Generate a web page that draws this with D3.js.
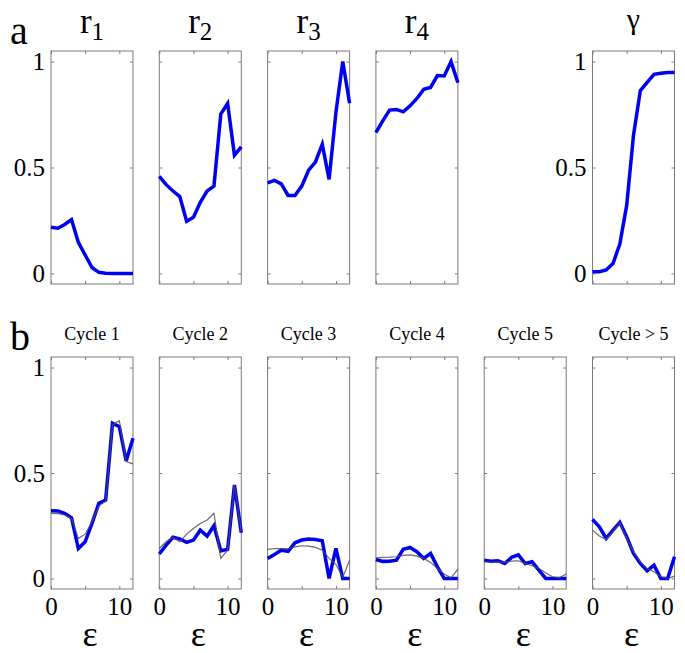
<!DOCTYPE html>
<html>
<head>
<meta charset="utf-8">
<script src="https://cdn.jsdelivr.net/npm/d3@7"></script>
<style>
body { margin: 0; background: #fff; }
svg { font-family: "Liberation Serif", "Times New Roman", serif; }
</style>
</head>
<body>
<div id="chart"></div>
<script>
// x values (epsilon)
var eps = [0, 1, 2, 3, 4, 5, 6, 7, 8, 9, 10, 11, 12];

// row a: model parameters
var r1 = [0.218, 0.213, 0.231, 0.254, 0.147, 0.087, 0.028, 0.005, 0.001, 0.0, 0.0, 0.0, 0.0];
var r2 = [0.458, 0.419, 0.389, 0.363, 0.246, 0.265, 0.336, 0.389, 0.412, 0.752, 0.802, 0.558, 0.597];
var r3 = [0.427, 0.439, 0.423, 0.368, 0.368, 0.412, 0.487, 0.526, 0.610, 0.444, 0.76, 1.0, 0.803];
var r4 = [0.665, 0.720, 0.771, 0.774, 0.763, 0.791, 0.826, 0.869, 0.878, 0.934, 0.932, 1.0, 0.900];
var gamma = [0.008, 0.008, 0.016, 0.047, 0.139, 0.321, 0.652, 0.863, 0.902, 0.940, 0.945, 0.948, 0.949];

// row b: per-cycle data (blue) and model fit (gray)
var cycle1 = [0.321, 0.320, 0.309, 0.288, 0.142, 0.174, 0.261, 0.356, 0.372, 0.736, 0.720, 0.557, 0.665];
var cycle1Fit = [0.309, 0.307, 0.301, 0.285, 0.190, 0.210, 0.269, 0.343, 0.369, 0.728, 0.748, 0.554, 0.543];
var cycle2 = [0.116, 0.158, 0.195, 0.187, 0.171, 0.182, 0.229, 0.201, 0.250, 0.131, 0.138, 0.443, 0.217];
var cycle2Fit = [0.142, 0.174, 0.195, 0.174, 0.210, 0.237, 0.261, 0.277, 0.309, 0.095, 0.134, 0.443, 0.222];
var cycle3 = [0.095, 0.114, 0.134, 0.128, 0.169, 0.182, 0.187, 0.185, 0.179, 0.0, 0.142, 0.0, 0.0];
var cycle3Fit = [0.138, 0.142, 0.141, 0.141, 0.150, 0.155, 0.153, 0.147, 0.134, 0.095, 0.066, 0.005, 0.087];
var cycle4 = [0.090, 0.081, 0.082, 0.087, 0.138, 0.147, 0.127, 0.095, 0.119, 0.055, 0.0, 0.0, 0.0];
var cycle4Fit = [0.098, 0.100, 0.101, 0.103, 0.109, 0.112, 0.106, 0.095, 0.076, 0.047, 0.021, 0.003, 0.044];
var cycle5 = [0.087, 0.082, 0.084, 0.071, 0.100, 0.112, 0.071, 0.079, 0.040, 0.0, 0.0, 0.0, 0.0];
var cycle5Fit = [0.078, 0.078, 0.078, 0.076, 0.082, 0.084, 0.071, 0.060, 0.047, 0.027, 0.008, 0.003, 0.021];
var cycle6 = [0.280, 0.245, 0.190, 0.229, 0.266, 0.198, 0.119, 0.071, 0.036, 0.063, 0.0, 0.0, 0.103];
var cycle6Fit = [0.229, 0.201, 0.185, 0.222, 0.264, 0.190, 0.127, 0.079, 0.047, 0.032, 0.008, 0.0, 0.011];

var topNames = ["r", "r", "r", "r", "\u03b3"];
var topSubs = ["1", "2", "3", "4", ""];
var topSeries = [r1, r2, r3, r4, gamma];
var topSlots = [0, 1, 2, 3, 5];

var bottomNames = ["Cycle 1", "Cycle 2", "Cycle 3", "Cycle 4", "Cycle 5", "Cycle > 5"];
var bottomSeries = [cycle1, cycle2, cycle3, cycle4, cycle5, cycle6];
var bottomFits = [cycle1Fit, cycle2Fit, cycle3Fit, cycle4Fit, cycle5Fit, cycle6Fit];

var yTicks = [0, 0.5, 1];
var xTicks = [0, 5, 10];
var xTickLabels = ["0", "", "10"];

var width = 685, height = 653;
var boxColor = "#7a7a7a";
var blue = "#0000f0";

var svg = d3.select("#chart")
    .append("svg")
    .attr("width", width)
    .attr("height", height);

var slot = d3.scaleBand()
    .domain([0, 1, 2, 3, 4, 5])
    .range([51, 674.5])
    .paddingInner(0.243)
    .paddingOuter(0);

var yTop = d3.scaleLinear().domain([-0.05, 1.05]).range([284, 51]);
var yBottom = d3.scaleLinear().domain([-0.05, 1.05]).range([589, 357]);

function drawPanel(s, y, opts) {
    var x = d3.scaleLinear()
        .domain([0, 12])
        .range([slot(s), slot(s) + slot.bandwidth()]);
    var g = svg.append("g");
    var y0 = y.range()[0], y1 = y.range()[1];

    // left
    var left = g.append("g")
        .attr("transform", `translate(${x.range()[0]},0)`)
        .call(d3.axisLeft(y).tickValues(yTicks).tickSizeInner(-3).tickSizeOuter(0).tickPadding(6)
            .tickFormat(d => opts.yLabels ? d3.format("~g")(d) : ""));
    // right
    var right = g.append("g")
        .attr("transform", `translate(${x.range()[1]},0)`)
        .call(d3.axisRight(y).tickValues(yTicks).tickSizeInner(-3).tickSizeOuter(0).tickFormat(""));
    // bottom
    var bottom = g.append("g")
        .attr("transform", `translate(0,${y0})`)
        .call(d3.axisBottom(x).tickValues(xTicks).tickSizeInner(-3).tickSizeOuter(0).tickPadding(8)
            .tickFormat((d, i) => opts.xLabels ? xTickLabels[i] : ""));
    // top
    var top = g.append("g")
        .attr("transform", `translate(0,${y1})`)
        .call(d3.axisTop(x).tickValues(xTicks).tickSizeInner(-3).tickSizeOuter(0).tickFormat(""));

    [left, right, bottom, top].forEach(a => {
        a.select(".domain").remove();
        a.attr("color", boxColor);
        a.selectAll("text")
            .attr("fill", "#000")
            .style("font-family", "'Liberation Serif', serif")
            .style("font-size", "25px");
    });

    g.append("rect")
        .attr("x", x.range()[0])
        .attr("y", y1)
        .attr("width", x.range()[1] - x.range()[0])
        .attr("height", y0 - y1)
        .attr("fill", "none")
        .attr("stroke", boxColor)
        .attr("stroke-width", 1);

    var line = d3.line()
        .x((d, i) => x(eps[i]))
        .y(d => y(d));

    g.append("path")
        .datum(opts.values)
        .attr("d", line)
        .attr("fill", "none")
        .attr("stroke", blue)
        .attr("stroke-width", 3.5)
        .attr("stroke-linejoin", "miter");

    if (opts.fit) {
        g.append("path")
            .datum(opts.fit)
            .attr("d", line)
            .attr("fill", "none")
            .attr("stroke", "#505050")
            .attr("stroke-opacity", 0.85)
            .attr("stroke-width", 1.2);
    }

    if (opts.xLabels) {
        g.append("text")
            .attr("x", (x.range()[0] + x.range()[1]) / 2 - 2)
            .attr("y", 646)
            .attr("text-anchor", "middle")
            .style("font-size", "36px")
            .text("\u03b5");
    }
    return x;
}

// row a
topSeries.forEach((vals, i) => {
    var s = topSlots[i];
    drawPanel(s, yTop, { values: vals, yLabels: i === 0 || i === 4, xLabels: false });
    var cx = slot(s) + slot.bandwidth() / 2;
    var t = svg.append("text")
        .attr("x", cx)
        .attr("y", topSubs[i] ? 33 : 29)
        .attr("text-anchor", "middle")
        .style("font-size", topSubs[i] ? "35px" : "30px")
        .text(topNames[i]);
    if (topSubs[i]) {
        t.append("tspan")
            .attr("dy", 7)
            .style("font-size", "25px")
            .text(topSubs[i]);
    }
});

// row b
bottomSeries.forEach((vals, i) => {
    drawPanel(i, yBottom, { values: vals, fit: bottomFits[i], yLabels: i === 0, xLabels: true });
    svg.append("text")
        .attr("x", slot(i) + slot.bandwidth() / 2)
        .attr("y", 340)
        .attr("text-anchor", "middle")
        .style("font-size", "18px")
        .text(bottomNames[i]);
});

// panel letters
svg.append("text").attr("x", 10).attr("y", 44).style("font-size", "40px").text("a");
svg.append("text").attr("x", 10).attr("y", 350).style("font-size", "40px").text("b");
</script>
</body>
</html>
